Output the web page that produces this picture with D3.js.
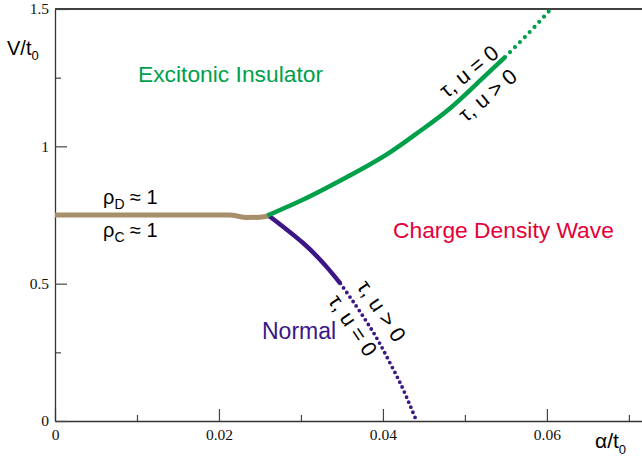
<!DOCTYPE html>
<html>
<head>
<meta charset="utf-8">
<script src="https://cdn.jsdelivr.net/npm/d3@7"></script>
<style>
  body { margin: 0; background: #fff; }
  svg { display: block; }
</style>
</head>
<body>
<div id="chart"></div>
<script>
// phase diagram, V/t0 vs alpha/t0

// boundary (alpha/t0, V/t0)
const brownAlpha = [0, 0.0213, 0.0234, 0.0250, 0.0262];
const brownV     = [0.750, 0.750, 0.741, 0.742, 0.747];

const greenAlpha = [0.0259, 0.0299, 0.0335, 0.0372, 0.0409, 0.0445, 0.0482, 0.0518, 0.0549, 0.0579, 0.0605];
const greenV     = [0.748, 0.801, 0.855, 0.914, 0.979, 1.055, 1.139, 1.238, 1.325, 1.416, 1.500];
const greenSolidEnd = 8;   // dotted beyond this point

const purpleAlpha = [0.0262, 0.0303, 0.0331, 0.0348, 0.0368, 0.0384, 0.0396, 0.0413, 0.0425, 0.0441];
const purpleV     = [0.745, 0.647, 0.562, 0.501, 0.416, 0.343, 0.283, 0.186, 0.113, 0.0];
const purpleSolidEnd = 3;

const xMajor = [0, 0.02, 0.04, 0.06];
const xMinor = [0.01, 0.03, 0.05, 0.07];
const yMajor = [0, 0.5, 1, 1.5];
const yMinor = [0.25, 0.75, 1.25];

const width = 642;
const height = 461;
const mLeft = 55, mTop = 9, mBottom = 421;

const green = "#00a04a";
const purple = "#3b1687";
const brown = "#a88f6b";
const red = "#e3003a";

const x = d3.scaleLinear().domain([0, 0.0716]).range([mLeft, width]);
const y = d3.scaleLinear().domain([0, 1.5]).range([mBottom, mTop]);

const svg = d3.select("#chart").append("svg")
    .attr("width", width)
    .attr("height", height);

// top frame line
svg.append("line")
    .attr("x1", mLeft).attr("x2", width)
    .attr("y1", mTop).attr("y2", mTop)
    .attr("stroke", "#000")
    .attr("stroke-width", 1.3);

// axes, ticks pointing inward
const tickFont = "Liberation Serif, Times New Roman, serif";

svg.append("g")
    .attr("transform", `translate(0,${mBottom})`)
    .call(d3.axisBottom(x).tickValues(xMinor).tickSize(-6).tickSizeOuter(0).tickFormat(""))
    .call(g => g.select(".domain").remove());
svg.append("g")
    .attr("transform", `translate(0,${mBottom})`)
    .call(d3.axisBottom(x).tickValues(xMajor).tickSize(-12).tickSizeOuter(0).tickPadding(8)
        .tickFormat(d => d === 0 ? "0" : d3.format(".2f")(d)))
    .attr("font-family", tickFont)
    .attr("font-size", 15.5);

svg.append("g")
    .attr("transform", `translate(${mLeft},0)`)
    .call(d3.axisLeft(y).tickValues(yMinor).tickSize(-6).tickSizeOuter(0).tickFormat(""))
    .call(g => g.select(".domain").remove());
svg.append("g")
    .attr("transform", `translate(${mLeft},0)`)
    .call(d3.axisLeft(y).tickValues(yMajor).tickSize(-12).tickSizeOuter(0).tickPadding(6)
        .tickFormat(d => String(d)))
    .attr("font-family", tickFont)
    .attr("font-size", 15.5);

svg.selectAll(".tick text").attr("fill", "#111");
svg.selectAll(".tick line").attr("stroke", "#444").attr("stroke-width", 1.2);
svg.selectAll(".domain").attr("stroke", "#333").attr("stroke-width", 1.3);

// boundary curves
const pts = (a, v) => a.map((d, i) => [d, v[i]]);
const line = d3.line()
    .x(d => x(d[0]))
    .y(d => y(d[1]))
    .curve(d3.curveMonotoneX);
const smooth = d3.line()
    .x(d => x(d[0]))
    .y(d => y(d[1]))
    .curve(d3.curveNatural);

const brownPts = pts(brownAlpha, brownV);
const greenPts = pts(greenAlpha, greenV);
const purplePts = pts(purpleAlpha, purpleV);

svg.append("path")
    .attr("d", line(brownPts))
    .attr("fill", "none")
    .attr("stroke", brown)
    .attr("stroke-width", 5);

svg.append("path")
    .attr("d", smooth(purplePts.slice(0, purpleSolidEnd + 1)))
    .attr("fill", "none")
    .attr("stroke", purple)
    .attr("stroke-width", 4.5);
svg.append("path")
    .attr("d", smooth(purplePts.slice(purpleSolidEnd)))
    .attr("fill", "none")
    .attr("stroke", purple)
    .attr("stroke-width", 3.8)
    .attr("stroke-linecap", "round")
    .attr("stroke-dasharray", "0 5.5");

svg.append("path")
    .attr("d", smooth(greenPts.slice(0, greenSolidEnd + 1)))
    .attr("fill", "none")
    .attr("stroke", green)
    .attr("stroke-width", 4.5);
svg.append("path")
    .attr("d", smooth(greenPts.slice(greenSolidEnd)))
    .attr("fill", "none")
    .attr("stroke", green)
    .attr("stroke-width", 4.2)
    .attr("stroke-linecap", "round")
    .attr("stroke-dasharray", "0 7");

// text
const sans = "'Liberation Sans', Arial, sans-serif";

function label(txt, px, py, color, size) {
  return svg.append("text")
      .attr("x", px).attr("y", py)
      .attr("fill", color)
      .style("font-family", sans)
      .style("font-size", size + "px")
      .text(txt);
}

label("Excitonic Insulator", 138, 82, green, 22.8);
label("Charge Density Wave", 393, 238, red, 22.8);
label("Normal", 262, 339, purple, 23);

// axis titles
const vt = svg.append("text").attr("x", 7).attr("y", 55)
    .style("font-family", sans).style("font-size", "20px").attr("fill", "#000");
vt.append("tspan").text("V/t");
vt.append("tspan").attr("dy", 5).style("font-size", "13px").text("0");

const at = svg.append("text").attr("x", 595).attr("y", 448)
    .style("font-family", sans).style("font-size", "21px").attr("fill", "#000");
at.append("tspan").text("α/t");
at.append("tspan").attr("dy", 6).style("font-size", "13px").text("0");

// density labels on the brown line
function rho(sub, px, py) {
  const t = svg.append("text").attr("x", px).attr("y", py)
      .style("font-family", sans).style("font-size", "20px").attr("fill", "#000");
  t.append("tspan").text("ρ");
  t.append("tspan").attr("dy", 5).style("font-size", "14px").text(sub);
  t.append("tspan").attr("dy", -5).text(" ≈ 1");
}
rho("D", 103, 204);
rho("C", 103, 237);

// rotated tau, u labels along the boundaries
const notes = [
  {txt: "τ, u = 0", a: 0.0505, v: 1.272, rot: -39},
  {txt: "τ, u > 0", a: 0.0528, v: 1.185, rot: -40},
  {txt: "τ, u > 0", a: 0.0398, v: 0.400, rot: 56},
  {txt: "τ, u = 0", a: 0.0363, v: 0.347, rot: 56}
];

svg.append("g").selectAll("text")
    .data(notes)
    .join("text")
    .attr("transform", d => `translate(${x(d.a)},${y(d.v)}) rotate(${d.rot})`)
    .attr("text-anchor", "middle")
    .attr("dominant-baseline", "central")
    .style("font-family", sans)
    .style("font-size", "21.5px")
    .attr("fill", "#000")
    .text(d => d.txt);
</script>
</body>
</html>
